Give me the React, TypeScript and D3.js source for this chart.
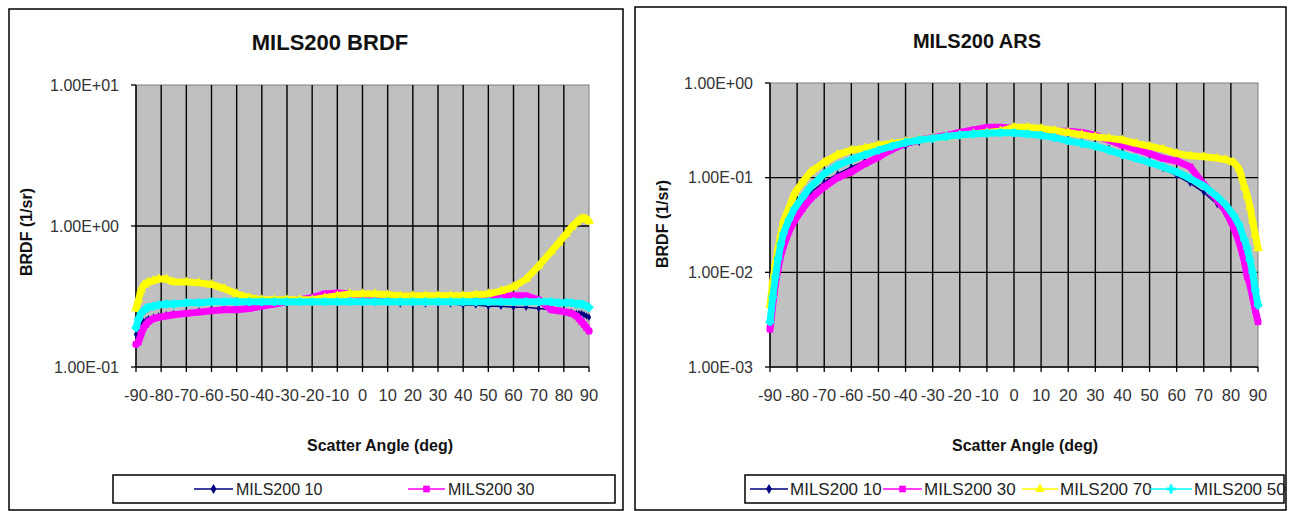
import * as d3 from 'd3'
import { useEffect, useRef } from 'react'

const W = 1294
const H = 511
const FONT = "Arial, 'Liberation Sans', sans-serif"

// scatter angles (deg), shared by every series
const ANGLES = [-90, -89, -88, -87, -86, -85, -83, -81, -78, -75, -70, -65, -60, -55, -50, -45, -40, -35, -30, -25, -20, -15, -10, -5, 0, 5, 10, 15, 20, 25, 30, 35, 40, 45, 50, 55, 60, 65, 70, 75, 78, 81, 83, 85, 86, 87, 88, 89, 90]
const X_TICKS = [-90, -80, -70, -60, -50, -40, -30, -20, -10, 0, 10, 20, 30, 40, 50, 60, 70, 80, 90]

const SERIES_NAMES = ['MILS200 10', 'MILS200 30', 'MILS200 70', 'MILS200 50']

// BRDF panel (1/sr)
const BRDF_10 = [0.17, 0.19, 0.2, 0.21, 0.215, 0.22, 0.225, 0.23, 0.235, 0.24, 0.245, 0.25, 0.255, 0.26, 0.265, 0.27, 0.275, 0.28, 0.285, 0.29, 0.3, 0.3, 0.29, 0.29, 0.29, 0.285, 0.285, 0.28, 0.28, 0.28, 0.28, 0.28, 0.275, 0.275, 0.27, 0.27, 0.265, 0.265, 0.26, 0.255, 0.25, 0.245, 0.245, 0.24, 0.24, 0.24, 0.235, 0.23, 0.225]
const BRDF_30 = [0.145, 0.15, 0.17, 0.19, 0.2, 0.21, 0.22, 0.225, 0.23, 0.235, 0.24, 0.245, 0.25, 0.255, 0.255, 0.26, 0.27, 0.28, 0.29, 0.3, 0.31, 0.33, 0.335, 0.33, 0.32, 0.32, 0.32, 0.32, 0.32, 0.315, 0.31, 0.31, 0.31, 0.31, 0.31, 0.315, 0.32, 0.32, 0.3, 0.255, 0.25, 0.245, 0.24, 0.23, 0.22, 0.21, 0.2, 0.19, 0.18]
const BRDF_70 = [0.26, 0.3, 0.35, 0.38, 0.39, 0.4, 0.41, 0.42, 0.42, 0.4, 0.4, 0.395, 0.385, 0.36, 0.33, 0.31, 0.3, 0.3, 0.3, 0.3, 0.3, 0.31, 0.32, 0.33, 0.33, 0.33, 0.325, 0.32, 0.32, 0.32, 0.32, 0.32, 0.32, 0.325, 0.33, 0.345, 0.37, 0.42, 0.52, 0.66, 0.76, 0.88, 0.98, 1.06, 1.1, 1.13, 1.13, 1.12, 1.08]
const BRDF_50 = [0.19, 0.22, 0.24, 0.25, 0.26, 0.265, 0.27, 0.275, 0.28, 0.28, 0.285, 0.285, 0.29, 0.29, 0.29, 0.29, 0.29, 0.29, 0.29, 0.29, 0.29, 0.29, 0.29, 0.29, 0.29, 0.29, 0.29, 0.29, 0.29, 0.29, 0.29, 0.29, 0.29, 0.29, 0.29, 0.29, 0.29, 0.29, 0.29, 0.29, 0.285, 0.285, 0.285, 0.28, 0.28, 0.28, 0.275, 0.27, 0.265]

// ARS panel
const ARS_10 = [0.0027, 0.005, 0.0085, 0.013, 0.018, 0.023, 0.032, 0.042, 0.056, 0.07, 0.09, 0.11, 0.13, 0.15, 0.17, 0.195, 0.215, 0.235, 0.25, 0.265, 0.28, 0.29, 0.295, 0.3, 0.3, 0.295, 0.285, 0.27, 0.255, 0.24, 0.225, 0.205, 0.185, 0.165, 0.145, 0.125, 0.105, 0.087, 0.07, 0.052, 0.041, 0.03, 0.023, 0.016, 0.013, 0.01, 0.0075, 0.005, 0.0035]
const ARS_30 = [0.0025, 0.0045, 0.0075, 0.011, 0.015, 0.019, 0.027, 0.035, 0.047, 0.06, 0.08, 0.1, 0.115, 0.14, 0.165, 0.2, 0.23, 0.25, 0.265, 0.28, 0.3, 0.32, 0.34, 0.34, 0.33, 0.32, 0.315, 0.31, 0.31, 0.3, 0.28, 0.25, 0.22, 0.2, 0.18, 0.16, 0.15, 0.13, 0.085, 0.058, 0.045, 0.03, 0.021, 0.013, 0.009, 0.0075, 0.0055, 0.004, 0.003]
const ARS_70 = [0.0045, 0.008, 0.0125, 0.018, 0.025, 0.035, 0.048, 0.068, 0.09, 0.115, 0.145, 0.175, 0.195, 0.205, 0.22, 0.23, 0.24, 0.25, 0.26, 0.27, 0.28, 0.29, 0.3, 0.31, 0.34, 0.34, 0.33, 0.315, 0.3, 0.285, 0.27, 0.26, 0.25, 0.23, 0.215, 0.2, 0.18, 0.17, 0.166, 0.16, 0.155, 0.145, 0.125, 0.08, 0.065, 0.05, 0.035, 0.025, 0.018]
const ARS_50 = [0.003, 0.0055, 0.009, 0.014, 0.02, 0.026, 0.036, 0.047, 0.062, 0.08, 0.11, 0.135, 0.155, 0.175, 0.195, 0.215, 0.235, 0.25, 0.26, 0.272, 0.282, 0.29, 0.295, 0.298, 0.298, 0.29, 0.28, 0.265, 0.245, 0.23, 0.215, 0.195, 0.175, 0.16, 0.145, 0.13, 0.115, 0.098, 0.082, 0.063, 0.052, 0.04, 0.032, 0.022, 0.018, 0.0135, 0.01, 0.0065, 0.0045]

const COLORS = ['#000080', '#ff00ff', '#ffff00', '#00ffff']
const BAND = [1.5, 7, 7, 7]
const SYMBOLS = [d3.symbolDiamond, d3.symbolSquare, d3.symbolTriangle, d3.symbolCross]
const SYM_SIZE = [16, 40, 40, 40]

interface Panel {
  title: string
  titleX: number
  titleY: number
  titleSize: number
  frame: [number, number, number, number]
  plot: [number, number, number, number]
  yDomain: [number, number]
  yTicks: number[]
  yTitleX: number
  yTitleY: number
  xTitleX: number
  xTitleY: number
  series: number[][]
  legendBox: [number, number, number, number]
  legendItems: { s: number; x0: number; x1: number; tx: number }[]
  legendSize: number
}

const PANELS: Panel[] = [
  {
    title: 'MILS200 BRDF', titleX: 330, titleY: 42, titleSize: 22,
    frame: [9, 9, 623, 510],
    plot: [136, 85, 589, 367],
    yDomain: [0.1, 10],
    yTicks: [0.1, 1, 10],
    yTitleX: 26, yTitleY: 232,
    xTitleX: 380, xTitleY: 445,
    series: [BRDF_10, BRDF_30, BRDF_70, BRDF_50],
    legendBox: [113, 475, 615, 503],
    legendItems: [
      { s: 0, x0: 194, x1: 233, tx: 236 },
      { s: 1, x0: 408, x1: 445, tx: 448 },
    ],
    legendSize: 16,
  },
  {
    title: 'MILS200 ARS', titleX: 977, titleY: 41, titleSize: 20,
    frame: [635, 7, 1286, 510],
    plot: [770, 83, 1258, 367],
    yDomain: [0.001, 1],
    yTicks: [0.001, 0.01, 0.1, 1],
    yTitleX: 662, yTitleY: 224,
    xTitleX: 1025, xTitleY: 445,
    series: [ARS_10, ARS_30, ARS_70, ARS_50],
    legendBox: [745, 475, 1284, 503],
    legendItems: [
      { s: 0, x0: 750, x1: 788, tx: 790 },
      { s: 1, x0: 883, x1: 922, tx: 924 },
      { s: 2, x0: 1022, x1: 1058, tx: 1060 },
      { s: 3, x0: 1150, x1: 1192, tx: 1194 },
    ],
    legendSize: 17,
  },
]

function sci(v: number) {
  const e = Math.round(Math.log10(v))
  return `1.00E${e < 0 ? '-' : '+'}${String(Math.abs(e)).padStart(2, '0')}`
}

function drawPanel(svg: d3.Selection<SVGSVGElement, unknown, null, undefined>, p: Panel) {
  const [fx0, fy0, fx1, fy1] = p.frame
  const [px0, py0, px1, py1] = p.plot
  const g = svg.append('g')

  g.append('rect')
    .attr('x', fx0).attr('y', fy0)
    .attr('width', fx1 - fx0).attr('height', fy1 - fy0)
    .attr('fill', '#fff').attr('stroke', '#000').attr('stroke-width', 1.5)

  const x = d3.scaleLinear().domain([-90, 90]).range([px0, px1])
  const y = d3.scaleLog().domain(p.yDomain).range([py1, py0])

  g.append('rect')
    .attr('x', px0).attr('y', py0)
    .attr('width', px1 - px0).attr('height', py1 - py0)
    .attr('fill', '#c0c0c0').attr('stroke', '#808080').attr('stroke-width', 1)

  // gridlines
  g.selectAll('.vgrid').data(X_TICKS.slice(1, -1)).enter().append('line')
    .attr('x1', d => x(d)).attr('x2', d => x(d))
    .attr('y1', py0).attr('y2', py1)
    .attr('stroke', '#000').attr('stroke-width', 1.4)
  g.selectAll('.hgrid').data(p.yTicks.slice(1, -1)).enter().append('line')
    .attr('x1', px0).attr('x2', px1)
    .attr('y1', d => y(d)).attr('y2', d => y(d))
    .attr('stroke', '#000').attr('stroke-width', 1.4)

  // axes
  g.append('line').attr('x1', px0).attr('x2', px0).attr('y1', py0).attr('y2', py1)
    .attr('stroke', '#000').attr('stroke-width', 1.5)
  g.append('line').attr('x1', px0).attr('x2', px1).attr('y1', py1).attr('y2', py1)
    .attr('stroke', '#000').attr('stroke-width', 1.5)
  g.selectAll('.ytick').data(p.yTicks).enter().append('line')
    .attr('x1', px0 - 5).attr('x2', px0)
    .attr('y1', d => y(d)).attr('y2', d => y(d))
    .attr('stroke', '#000').attr('stroke-width', 1.3)
  g.selectAll('.xtick').data(X_TICKS).enter().append('line')
    .attr('x1', d => x(d)).attr('x2', d => x(d))
    .attr('y1', py1).attr('y2', py1 + 5)
    .attr('stroke', '#000').attr('stroke-width', 1.3)

  g.selectAll('.ylab').data(p.yTicks).enter().append('text')
    .attr('x', px0 - 17).attr('y', d => y(d))
    .attr('text-anchor', 'end').attr('dominant-baseline', 'central')
    .attr('font-family', FONT).attr('font-size', 16).attr('fill', '#333')
    .text(d => sci(d))
  g.selectAll('.xlab').data(X_TICKS).enter().append('text')
    .attr('x', d => x(d)).attr('y', py1 + 28)
    .attr('text-anchor', 'middle').attr('dominant-baseline', 'central')
    .attr('font-family', FONT).attr('font-size', 16.5).attr('fill', '#333')
    .text(d => String(d))

  // series, first to last so cyan ends on top
  p.series.forEach((vals, s) => {
    const pts = ANGLES.map((a, i) => [a, vals[i]] as [number, number])
    const line = d3.line<[number, number]>().x(d => x(d[0])).y(d => y(d[1]))
    g.append('path')
      .attr('d', line(pts))
      .attr('fill', 'none')
      .attr('stroke', COLORS[s])
      .attr('stroke-width', BAND[s])
      .attr('stroke-linejoin', 'round').attr('stroke-linecap', 'round')
    const sym = d3.symbol().type(SYMBOLS[s]).size(SYM_SIZE[s])
    g.selectAll(`.m${s}`).data(pts).enter().append('path')
      .attr('d', sym())
      .attr('transform', d => `translate(${x(d[0])},${y(d[1])})`)
      .attr('fill', COLORS[s])
  })

  // titles
  g.append('text')
    .attr('x', p.titleX).attr('y', p.titleY)
    .attr('text-anchor', 'middle').attr('dominant-baseline', 'central')
    .attr('font-family', FONT).attr('font-weight', 'bold').attr('font-size', p.titleSize)
    .attr('fill', '#111')
    .text(p.title)
  g.append('text')
    .attr('x', p.xTitleX).attr('y', p.xTitleY)
    .attr('text-anchor', 'middle').attr('dominant-baseline', 'central')
    .attr('font-family', FONT).attr('font-weight', 'bold').attr('font-size', 16)
    .attr('fill', '#111')
    .text('Scatter Angle (deg)')
  g.append('text')
    .attr('transform', `translate(${p.yTitleX},${p.yTitleY}) rotate(-90)`)
    .attr('text-anchor', 'middle').attr('dominant-baseline', 'central')
    .attr('font-family', FONT).attr('font-weight', 'bold').attr('font-size', 16)
    .attr('fill', '#111')
    .text('BRDF (1/sr)')

  // legend
  const [lx0, ly0, lx1, ly1] = p.legendBox
  const ly = (ly0 + ly1) / 2
  g.append('rect')
    .attr('x', lx0).attr('y', ly0)
    .attr('width', lx1 - lx0).attr('height', ly1 - ly0)
    .attr('fill', '#fff').attr('stroke', '#000').attr('stroke-width', 1.5)
  p.legendItems.forEach(it => {
    g.append('line')
      .attr('x1', it.x0).attr('x2', it.x1).attr('y1', ly).attr('y2', ly)
      .attr('stroke', COLORS[it.s]).attr('stroke-width', 1.5)
    g.append('path')
      .attr('d', d3.symbol().type(SYMBOLS[it.s]).size(it.s === 0 ? 30 : 44)())
      .attr('transform', `translate(${(it.x0 + it.x1) / 2},${ly})`)
      .attr('fill', COLORS[it.s])
    g.append('text')
      .attr('x', it.tx).attr('y', ly)
      .attr('dominant-baseline', 'central')
      .attr('font-family', FONT).attr('font-size', p.legendSize).attr('fill', '#222')
      .text(SERIES_NAMES[it.s])
  })
}

export default function App() {
  const ref = useRef<SVGSVGElement>(null)

  useEffect(() => {
    if (!ref.current) return
    const svg = d3.select(ref.current)
    svg.selectAll('*').remove()
    PANELS.forEach(p => drawPanel(svg, p))
  }, [])

  return (
    <svg
      ref={ref}
      width={W}
      height={H}
      style={{ position: 'absolute', left: 0, top: 0, background: '#fff' }}
    />
  )
}
